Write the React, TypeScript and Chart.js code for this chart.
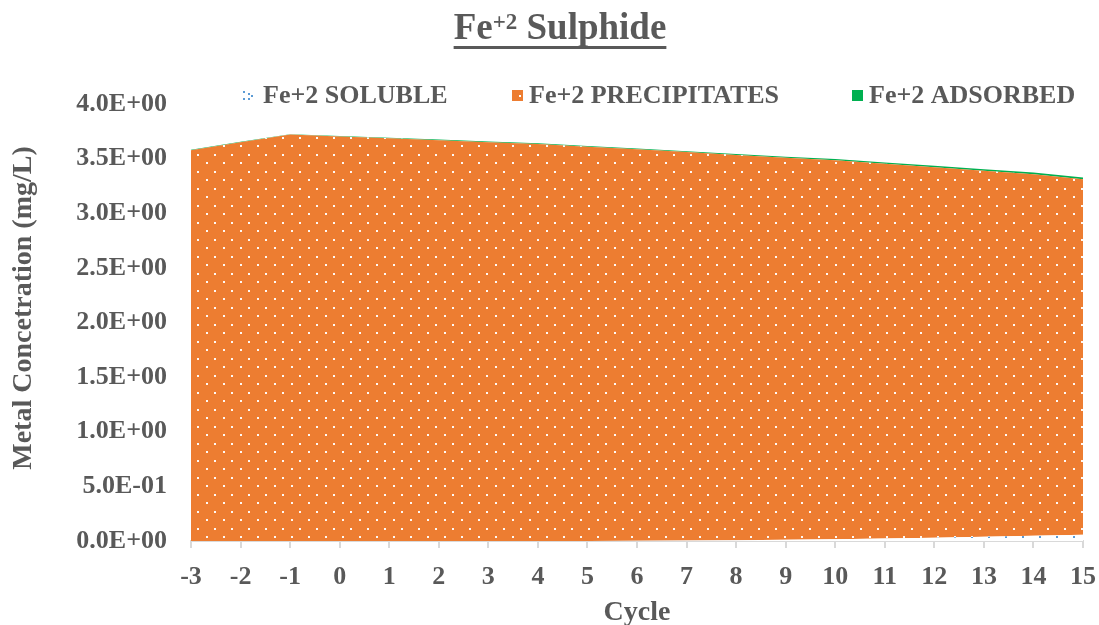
import { useEffect, useRef } from 'react';
import { Chart, registerables } from 'chart.js';

Chart.register(...registerables);

// Cycle numbers along the x axis
const cycles = ['-3', '-2', '-1', '0', '1', '2', '3', '4', '5', '6', '7', '8', '9', '10', '11', '12', '13', '14', '15'];

// Fe+2 concentrations (mg/L) per cycle, stacked bottom to top
const soluble = [0.001, 0.001, 0.001, 0.001, 0.001, 0.001, 0.001, 0.001, 0.001, 0.002, 0.004, 0.007, 0.011, 0.017, 0.023, 0.030, 0.038, 0.047, 0.057];
const precipitates = [3.576, 3.649, 3.719, 3.702, 3.685, 3.668, 3.650, 3.633, 3.608, 3.583, 3.556, 3.527, 3.497, 3.468, 3.430, 3.391, 3.350, 3.310, 3.254];
const adsorbed = [0.004, 0.004, 0.004, 0.005, 0.005, 0.005, 0.006, 0.006, 0.007, 0.007, 0.008, 0.009, 0.010, 0.011, 0.012, 0.013, 0.014, 0.015, 0.016];

const seriesLabels = ['Fe+2 SOLUBLE', 'Fe+2 PRECIPITATES', 'Fe+2 ADSORBED'];
const yTitle = 'Metal Concetration (mg/L)';
const yMax = 4;
const yStep = 0.5;

const FONT = '"Liberation Serif", "Times New Roman", serif';
const TEXT = '#595959';
const ORANGE = '#ED7D31';
const GREEN = '#00B050';
const BLUE = '#5B9BD5';
const AXIS = '#D9D9D9';

// Small repeating tile of staggered dots
function dotPattern(bg: string | null, dot: string): CanvasPattern {
  const c = document.createElement('canvas');
  c.width = 17;
  c.height = 17;
  const g = c.getContext('2d')!;
  if (bg) {
    g.fillStyle = bg;
    g.fillRect(0, 0, 17, 17);
  }
  g.fillStyle = dot;
  g.fillRect(2, 9, 2, 2);
  g.fillRect(10, 1, 2, 2);
  return g.createPattern(c, 'repeat')!;
}

// Exponent-style axis labels such as 3.5E+00 / 5.0E-01
function sciLabel(v: number): string {
  return Number(v)
    .toExponential(1)
    .toUpperCase()
    .replace(/E([+-])(\d)$/, 'E$10$2');
}

// Underlined title with a superscript charge, plus the vertical axis title
const titlePlugin = {
  id: 'feTitle',
  afterDraw(chart: Chart) {
    const ctx = chart.ctx;
    ctx.save();
    ctx.fillStyle = TEXT;
    ctx.textBaseline = 'alphabetic';
    ctx.textAlign = 'left';
    const big = `bold 37px ${FONT}`;
    const small = `bold 23px ${FONT}`;
    ctx.font = big;
    const wFe = ctx.measureText('Fe').width;
    const wRest = ctx.measureText(' Sulphide').width;
    ctx.font = small;
    const wSup = ctx.measureText('+2').width;
    const total = wFe + wSup + wRest;
    const x0 = 560 - total / 2;
    ctx.font = big;
    ctx.fillText('Fe', x0, 39);
    ctx.font = small;
    ctx.fillText('+2', x0 + wFe, 29);
    ctx.font = big;
    ctx.fillText(' Sulphide', x0 + wFe + wSup, 39);
    ctx.fillRect(x0, 46, total, 3);

    ctx.font = `bold 28px ${FONT}`;
    ctx.textAlign = 'center';
    ctx.textBaseline = 'middle';
    ctx.translate(24, 308);
    ctx.rotate(-Math.PI / 2);
    ctx.fillText(yTitle, 0, 0);
    ctx.restore();
  },
};

// Legend row across the top of the plot
const legendIconX = [243, 512, 852];
const legendTextX = [263, 529, 869];
const legendPlugin = {
  id: 'feLegend',
  afterDraw(chart: Chart) {
    const ctx = chart.ctx;
    ctx.save();
    const top = 90;
    const size = 11;
    // soluble: sparse blue dots
    ctx.fillStyle = BLUE;
    const sx = legendIconX[0];
    [[0, 1], [0, 8], [5, 3], [8, 5], [5, 8]].forEach(([dx, dy]) => ctx.fillRect(sx + dx, top + dy, 2, 2));
    // precipitates: orange with a white dot
    ctx.fillStyle = ORANGE;
    ctx.fillRect(legendIconX[1], top, size, size);
    ctx.fillStyle = '#FFFFFF';
    ctx.fillRect(legendIconX[1] + 7, top + 5, 2, 2);
    // adsorbed: solid green
    ctx.fillStyle = GREEN;
    ctx.fillRect(legendIconX[2], top, size, size);

    ctx.fillStyle = TEXT;
    ctx.font = `bold 26px ${FONT}`;
    ctx.textBaseline = 'alphabetic';
    ctx.textAlign = 'left';
    chart.data.datasets.forEach((ds, i) => {
      ctx.fillText(String(ds.label), legendTextX[i], 103);
    });
    ctx.restore();
  },
};

export default function App() {
  const ref = useRef<HTMLCanvasElement | null>(null);

  useEffect(() => {
    if (!ref.current) return;
    const orangeDots = dotPattern(ORANGE, 'rgba(255,255,255,0.95)');
    const blueDots = dotPattern('#FFFFFF', BLUE);

    const chart = new Chart(ref.current, {
      type: 'line',
      data: {
        labels: cycles,
        datasets: [
          {
            label: seriesLabels[0],
            data: soluble,
            fill: 'origin',
            backgroundColor: blueDots,
            borderColor: 'rgba(0,0,0,0)',
            borderWidth: 0,
            pointRadius: 0,
            tension: 0,
          },
          {
            label: seriesLabels[1],
            data: precipitates,
            fill: '-1',
            backgroundColor: orangeDots,
            borderColor: 'rgba(0,0,0,0)',
            borderWidth: 0,
            pointRadius: 0,
            tension: 0,
          },
          {
            label: seriesLabels[2],
            data: adsorbed,
            fill: '-1',
            backgroundColor: GREEN,
            borderColor: 'rgba(0,0,0,0)',
            borderWidth: 0,
            pointRadius: 0,
            tension: 0,
          },
        ],
      },
      options: {
        responsive: false,
        animation: false,
        devicePixelRatio: 1,
        layout: { padding: { top: 104, right: 16, bottom: 0, left: 0 } },
        plugins: {
          legend: { display: false },
          title: { display: false },
          tooltip: { enabled: false },
        },
        scales: {
          x: {
            type: 'category',
            offset: false,
            z: 1,
            border: { display: true, color: AXIS, width: 2 },
            grid: {
              display: true,
              drawOnChartArea: false,
              drawTicks: true,
              tickLength: 7,
              color: AXIS,
              lineWidth: 2,
            },
            ticks: {
              color: TEXT,
              font: { family: FONT, size: 26, weight: 'bold', lineHeight: 1 },
              padding: 16,
              maxRotation: 0,
              autoSkip: false,
            },
            title: {
              display: true,
              text: 'Cycle',
              color: TEXT,
              font: { family: FONT, size: 28, weight: 'bold', lineHeight: 1 },
              padding: { top: 0, bottom: -2 },
            },
            afterFit(scale: any) {
              scale.height = 84;
              scale.paddingLeft = 0;
              scale.paddingRight = 0;
            },
          },
          y: {
            stacked: true,
            min: 0,
            max: yMax,
            border: { display: false },
            grid: { display: false, drawTicks: false },
            ticks: {
              stepSize: yStep,
              color: TEXT,
              font: { family: FONT, size: 26, weight: 'bold' },
              padding: 24,
              callback: (v: any) => sciLabel(Number(v)),
            },
            afterFit(scale: any) {
              scale.width = 191;
            },
          },
        },
      },
      plugins: [titlePlugin, legendPlugin],
    });
    return () => chart.destroy();
  }, []);

  return (
    <div style={{ position: 'fixed', left: 0, top: 0, width: 1099, height: 625, background: '#FFFFFF' }}>
      <canvas ref={ref} width={1099} height={625} />
    </div>
  );
}
